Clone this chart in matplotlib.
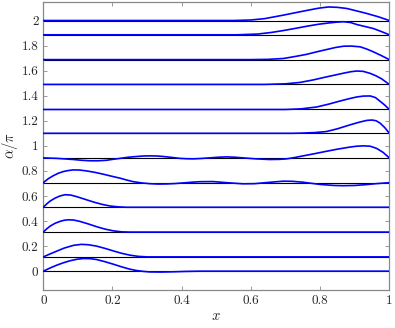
import matplotlib
matplotlib.use("Agg")
import matplotlib.pyplot as plt

plt.rcParams['font.family'] = 'cmr10'
plt.rcParams['mathtext.fontset'] = 'cm'
plt.rcParams['axes.formatter.use_mathtext'] = True

# baselines (alpha/pi)
baselines = [0.0, 0.114, 0.312, 0.51, 0.706, 0.904, 1.10, 1.29, 1.49, 1.688, 1.886, 2.0]

# lower curves (deviation on the left)
x0 = [0, 0.02, 0.039, 0.058, 0.077, 0.097, 0.116, 0.135, 0.154, 0.178, 0.202, 0.226,
      0.25, 0.27, 0.29, 0.308, 0.34, 0.375, 0.41, 0.45, 1.0]
y0 = [0, 0.026, 0.048, 0.067, 0.083, 0.095, 0.101, 0.1, 0.093, 0.076, 0.056, 0.035,
      0.016, 0.005, -0.002, -0.006, -0.007, -0.005, -0.002, 0, 0]

x1 = [0, 0.02, 0.039, 0.06, 0.087, 0.11, 0.13, 0.154, 0.178, 0.202, 0.226, 0.25, 0.275, 0.3, 1.0]
y1 = [0.114, 0.138, 0.16, 0.184, 0.206, 0.214, 0.211, 0.2, 0.182, 0.162, 0.143, 0.128, 0.118, 0.114, 0.114]

x2 = [0, 0.01, 0.02, 0.034, 0.048, 0.06, 0.072, 0.088, 0.106, 0.13, 0.154, 0.178, 0.202, 0.226, 0.25, 1.0]
y2 = [0.312, 0.338, 0.36, 0.382, 0.397, 0.406, 0.41, 0.408, 0.397, 0.377, 0.355, 0.336, 0.322, 0.314, 0.312, 0.312]

x3 = [0, 0.01, 0.02, 0.034, 0.048, 0.063, 0.08, 0.096, 0.12, 0.145, 0.17, 0.193, 0.217, 0.241, 1.0]
y3 = [0.51, 0.537, 0.56, 0.583, 0.6, 0.61, 0.607, 0.595, 0.574, 0.552, 0.533, 0.52, 0.513, 0.51, 0.51]

x4 = [0, 0.014, 0.029, 0.044, 0.058, 0.072, 0.087, 0.105, 0.125, 0.15, 0.173, 0.197, 0.222,
      0.24, 0.26, 0.285, 0.308, 0.332, 0.356, 0.38, 0.404, 0.43, 0.453, 0.49, 0.535,
      0.577, 0.61, 0.65, 0.693, 0.72, 0.75, 0.8, 0.84, 0.866, 0.9, 0.93, 0.965, 1.0]
y4 = [0.706, 0.737, 0.762, 0.782, 0.795, 0.803, 0.808, 0.807, 0.8, 0.788, 0.774, 0.758, 0.742,
      0.728, 0.714, 0.704, 0.698, 0.695, 0.696, 0.699, 0.704, 0.71, 0.714, 0.715, 0.705,
      0.697, 0.698, 0.708, 0.718, 0.717, 0.71, 0.692, 0.684, 0.682, 0.684, 0.69, 0.699, 0.706]

x5 = [0, 0.04, 0.087, 0.11, 0.135, 0.16, 0.183, 0.2, 0.222, 0.245, 0.27, 0.29, 0.308, 0.328,
      0.347, 0.37, 0.395, 0.415, 0.433, 0.455, 0.481, 0.505, 0.53, 0.555, 0.577, 0.615,
      0.654, 0.68, 0.703, 0.725, 0.751, 0.785, 0.819, 0.853, 0.886, 0.905, 0.925,
      0.945, 0.963, 0.982, 1.0]
y5 = [0.904, 0.9, 0.891, 0.885, 0.881, 0.881, 0.885, 0.892, 0.9, 0.909, 0.915, 0.919, 0.92, 0.919,
      0.915, 0.908, 0.9, 0.897, 0.896, 0.899, 0.904, 0.909, 0.912, 0.909, 0.904, 0.896,
      0.891, 0.892, 0.896, 0.906, 0.92, 0.938, 0.957, 0.975, 0.99, 0.997, 1.0,
      0.997, 0.98, 0.948, 0.904]

# upper curves (deviation on the right)
x6 = [0, 0.72, 0.75, 0.785, 0.818, 0.85, 0.887, 0.915, 0.935, 0.95, 0.962, 0.974, 0.987, 1.0]
y6 = [1.10, 1.10, 1.102, 1.106, 1.114, 1.136, 1.168, 1.19, 1.203, 1.206, 1.2, 1.18, 1.145, 1.10]

x7 = [0, 0.7, 0.745, 0.79, 0.825, 0.858, 0.885, 0.906, 0.925, 0.945, 0.96, 0.974, 0.987, 1.0]
y7 = [1.29, 1.29, 1.295, 1.31, 1.333, 1.358, 1.377, 1.39, 1.397, 1.398, 1.385, 1.354, 1.325, 1.29]

x8 = [0, 0.64, 0.7, 0.742, 0.78, 0.818, 0.845, 0.868, 0.89, 0.906, 0.925, 0.945, 0.962, 0.977, 0.99, 1.0]
y8 = [1.49, 1.49, 1.495, 1.506, 1.526, 1.55, 1.566, 1.58, 1.592, 1.597, 1.594, 1.578, 1.558, 1.536, 1.51, 1.49]

x9 = [0, 0.6, 0.65, 0.694, 0.73, 0.761, 0.79, 0.818, 0.845, 0.868, 0.89, 0.916, 0.935, 0.954, 0.977, 1.0]
y9 = [1.688, 1.688, 1.69, 1.697, 1.714, 1.73, 1.75, 1.768, 1.785, 1.795, 1.796, 1.79, 1.772, 1.75, 1.72, 1.688]

x10 = [0, 0.56, 0.62, 0.66, 0.694, 0.73, 0.761, 0.795, 0.824, 0.848, 0.868, 0.888, 0.906, 0.93, 0.954, 0.977, 1.0]
y10 = [1.886, 1.886, 1.892, 1.905, 1.92, 1.938, 1.954, 1.97, 1.98, 1.987, 1.99, 1.984, 1.968, 1.952, 1.936, 1.912, 1.886]

x11 = [0, 0.55, 0.6, 0.64, 0.694, 0.73, 0.761, 0.795, 0.824, 0.85, 0.877, 0.905, 0.935, 0.968, 1.0]
y11 = [2.0, 2.0, 2.004, 2.015, 2.043, 2.063, 2.08, 2.098, 2.108, 2.105, 2.096, 2.077, 2.056, 2.03, 2.0]

curves = [(x0, y0), (x1, y1), (x2, y2), (x3, y3), (x4, y4), (x5, y5),
          (x6, y6), (x7, y7), (x8, y8), (x9, y9), (x10, y10), (x11, y11)]

xticks = [0, 0.2, 0.4, 0.6, 0.8, 1]
xticklabels = ['0', '0.2', '0.4', '0.6', '0.8', '1']
yticks = [0, 0.2, 0.4, 0.6, 0.8, 1, 1.2, 1.4, 1.6, 1.8, 2]
yticklabels = ['0', '0.2', '0.4', '0.6', '0.8', '1', '1.2', '1.4', '1.6', '1.8', '2']

fig = plt.figure(figsize=(3.95, 3.28), dpi=100)
ax = fig.add_axes([0.1096, 0.1159, 0.876, 0.8789])

for b in baselines:
    ax.plot([0, 1], [b, b], color='black', lw=0.8, zorder=2)
for xs, ys in curves:
    ax.plot(xs, ys, color='#0000ff', lw=1.2, zorder=3, solid_joinstyle='round')

ax.set_xlim(0, 1)
ax.set_ylim(-0.15, 2.15)
ax.set_xticks(xticks)
ax.set_xticklabels(xticklabels)
ax.set_yticks(yticks)
ax.set_yticklabels(yticklabels)
ax.tick_params(direction='in', top=True, right=True, length=3, width=0.6,
               color='#888888', labelsize=9.5, labelcolor='#262626', pad=3.5)
for s in ax.spines.values():
    s.set_color('#888888')
    s.set_linewidth(0.9)

ax.set_xlabel(r'$x$', fontsize=10.5, color='#262626', labelpad=2)
ax.set_ylabel(r'$\alpha/\pi$', fontsize=10.5, color='#262626', labelpad=1)

fig.savefig('out.png', dpi=100)
